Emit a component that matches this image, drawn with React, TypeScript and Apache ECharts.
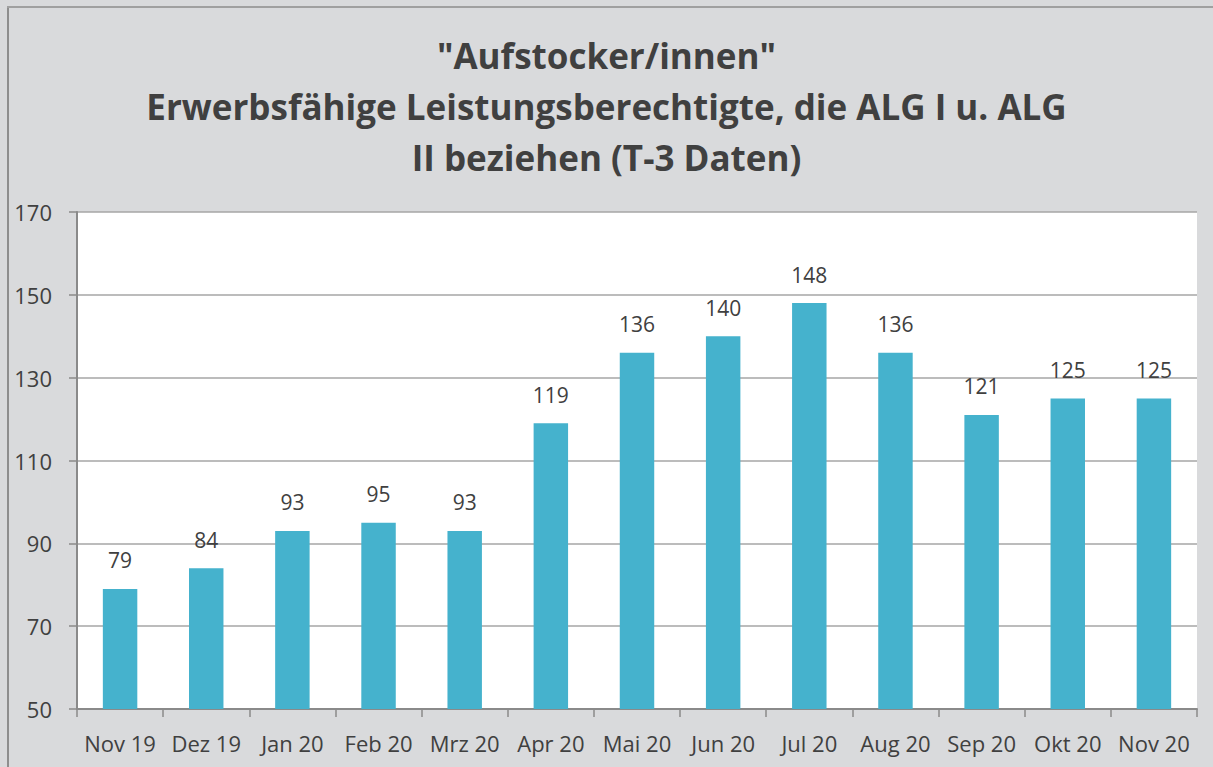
import React, { useEffect, useRef } from "react";
import * as echarts from "echarts";

const categories = ["Nov 19", "Dez 19", "Jan 20", "Feb 20", "Mrz 20", "Apr 20", "Mai 20", "Jun 20", "Jul 20", "Aug 20", "Sep 20", "Okt 20", "Nov 20"];
const values = [79, 84, 93, 95, 93, 119, 136, 140, 148, 136, 121, 125, 125];
const titleLines = ['"Aufstocker/innen"', "Erwerbsfähige Leistungsberechtigte, die ALG I u. ALG", "II beziehen (T-3 Daten)"];
const yMin = 50;
const yMax = 170;
const yStep = 20;

const FONT = "Open Sans";

export default function App() {
  const ref = useRef<HTMLDivElement>(null);
  useEffect(() => {
    document.documentElement.style.overflow = "hidden";
    document.body.style.margin = "0";
    const chart = echarts.init(ref.current!, null, { renderer: "svg" });
    chart.setOption({
      animation: false,
      backgroundColor: "#d9dadc",
      textStyle: { fontFamily: FONT },
      graphic: [
        {
          type: "line",
          shape: { x1: 8, y1: 6, x2: 8, y2: 767 },
          style: { stroke: "#8e8e8e", lineWidth: 2 },
          silent: true,
        },
        {
          type: "line",
          shape: { x1: 7, y1: 7, x2: 1213, y2: 7 },
          style: { stroke: "#a0a0a0", lineWidth: 2 },
          silent: true,
        },
      ],
      title: {
        text: titleLines.join("\n"),
        left: "center",
        top: 25,
        textStyle: {
          fontFamily: FONT,
          fontWeight: "bold",
          fontSize: 35,
          lineHeight: 51,
          color: "#404040",
        },
      },
      grid: {
        left: 77,
        right: 16,
        top: 212,
        bottom: 58,
        containLabel: false,
        show: true,
        backgroundColor: "#ffffff",
        borderWidth: 0,
      },
      xAxis: {
        type: "category",
        data: categories,
        boundaryGap: true,
        axisLine: { show: true, lineStyle: { color: "#8a8a8a", width: 2 } },
        axisTick: { show: true, alignWithLabel: false, length: 8, lineStyle: { color: "#8a8a8a", width: 1.5 } },
        axisLabel: { color: "#404040", fontSize: 22, fontFamily: FONT, margin: 23, interval: 0 },
        splitLine: { show: false },
      },
      yAxis: {
        type: "value",
        min: yMin,
        max: yMax,
        interval: yStep,
        axisLine: { show: true, lineStyle: { color: "#8a8a8a", width: 2 } },
        axisTick: { show: true, length: 8, lineStyle: { color: "#8a8a8a", width: 1.5 } },
        axisLabel: { color: "#404040", fontSize: 22, fontFamily: FONT, margin: 25 },
        splitLine: { show: true, lineStyle: { color: "#a6a6a6", width: 1.5 } },
      },
      series: [
        {
          type: "bar",
          data: values,
          barWidth: "40%",
          itemStyle: { color: "#45b2cd" },
          label: {
            show: true,
            position: "top",
            distance: 18,
            color: "#404040",
            fontSize: 21,
            fontFamily: FONT,
          },
        },
      ],
    });
    return () => chart.dispose();
  }, []);
  return <div ref={ref} style={{ position: "fixed", left: 0, top: 0, width: 1213, height: 767 }} />;
}
